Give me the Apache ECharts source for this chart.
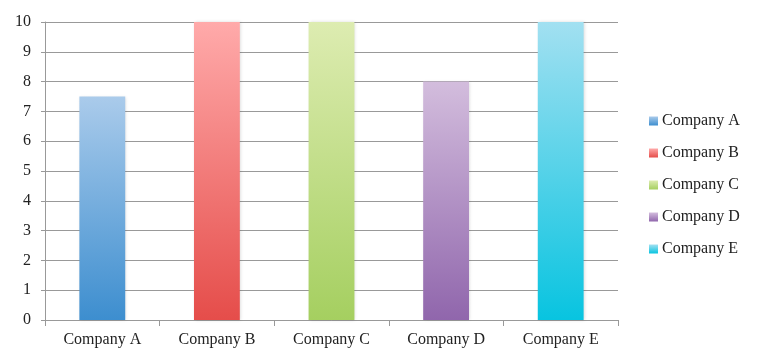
<!DOCTYPE html>
<html><head><meta charset="utf-8">
<script src="https://cdn.jsdelivr.net/npm/echarts@6/dist/echarts.min.js"></script>
<style>html,body{margin:0;padding:0;background:#fff}#c{width:767px;height:362px}</style>
</head><body><div id="c"></div>
<script>
const categories = ['Company A','Company B','Company C','Company D','Company E'];
const values = [7.5, 10, 10, 8, 10];
const topColors = ['#aacbeb','#ffaaaa','#ddecb1','#d3bddd','#a2e0f1'];
const bottomColors = ['#3d8ecf','#e54d4a','#a5cf60','#9066ac','#08c4e0'];
const yTicks = [0,1,2,3,4,5,6,7,8,9,10];

const font = '"Liberation Serif", "DejaVu Serif", serif';
const series = categories.map((name, i) => ({
  name: name,
  type: 'bar',
  stack: 'all',
  barWidth: '40%',
  data: categories.map((c, j) => j === i ? values[i] : null),
  itemStyle: {
    color: new echarts.graphic.LinearGradient(0, 0, 0, 1, [
      {offset: 0, color: topColors[i]},
      {offset: 1, color: bottomColors[i]}
    ]),
    shadowColor: 'rgba(0,0,0,0.15)', shadowBlur: 3, shadowOffsetX: 1
  }
}));

const chart = echarts.init(document.getElementById('c'), null, {renderer: 'canvas'});
chart.setOption({
  animation: false,
  backgroundColor: '#fff',
  grid: {left: 45, right: 149, top: 22, bottom: 42, containLabel: false},
  legend: {
    orient: 'vertical', left: 644, top: 108,
    itemWidth: 9, itemHeight: 9, itemGap: 16,
    icon: 'rect',
    data: categories,
    textStyle: {fontFamily: font, fontSize: 16, color: '#222', padding: [0,0,0,-1]}
  },
  xAxis: {
    type: 'category', data: categories,
    axisLine: {lineStyle: {color: '#999'}},
    axisTick: {show: true, length: 6, lineStyle: {color: '#999'}},
    axisLabel: {fontFamily: font, fontSize: 16, color: '#222', margin: 12}
  },
  yAxis: {
    type: 'value', min: yTicks[0], max: yTicks[yTicks.length-1], interval: 1,
    axisLine: {show: true, lineStyle: {color: '#999'}},
    axisTick: {show: true, length: 4, lineStyle: {color: '#999'}},
    splitLine: {lineStyle: {color: '#999'}},
    axisLabel: {fontFamily: font, fontSize: 16, color: '#222', margin: 14}
  },
  series: series
});
</script></body></html>
